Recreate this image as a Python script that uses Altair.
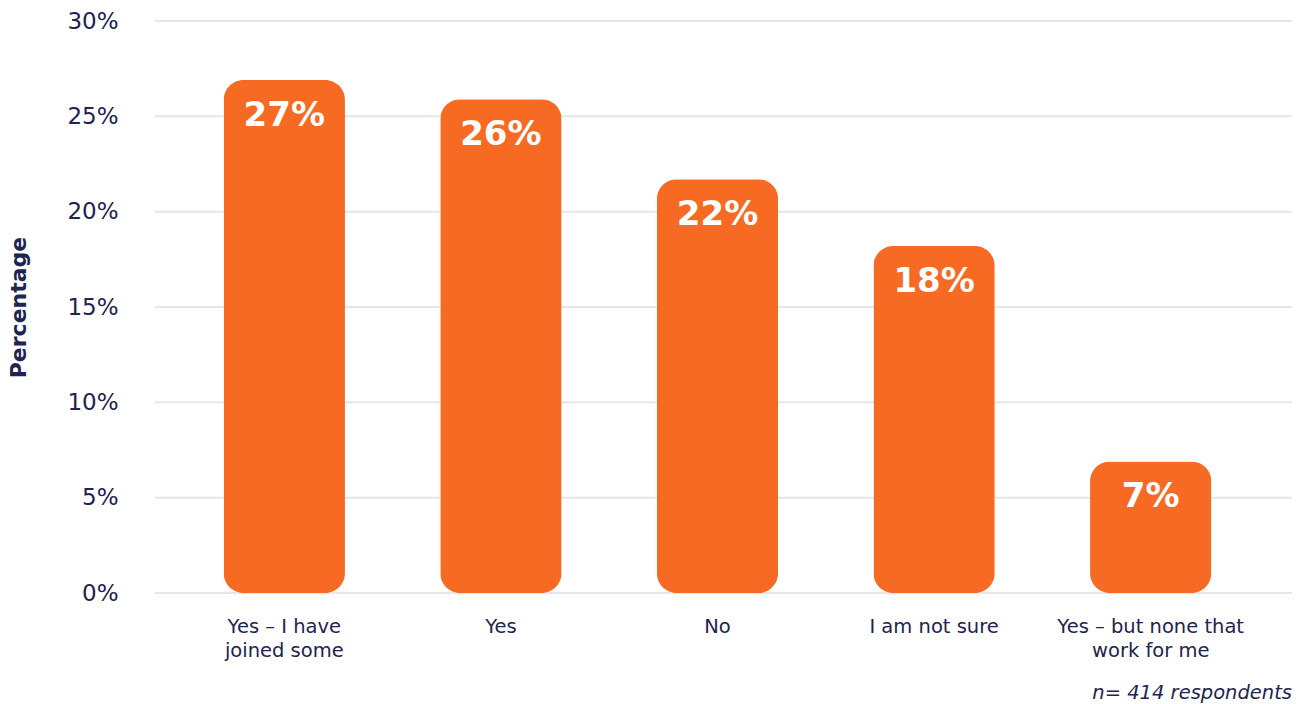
import altair as alt
import pandas as pd

categories = ["Yes – I have\njoined some", "Yes", "No", "I am not sure", "Yes – but none that\nwork for me"]
values = [26.9, 25.9, 21.7, 18.2, 6.9]
labels = ["27%", "26%", "22%", "18%", "7%"]
y_ticks = [0, 5, 10, 15, 20, 25, 30]
footnote = "n= 414 respondents"

FONT = "DejaVu Sans"
NAVY = "#23234f"
ORANGE = "#F76A24"

df = pd.DataFrame({"cat": categories, "val": values, "lab": labels})
xscale = alt.Scale(paddingInner=0.44, paddingOuter=0.317, range=[0, 1125])
yscale = alt.Scale(domain=[0, 30], nice=False)
yaxis = alt.Axis(values=y_ticks, labelExpr="datum.value + '%'",
                 labelFont=FONT, labelFontSize=23, labelColor=NAVY,
                 labelPadding=37, ticks=False, domain=False, grid=False,
                 titleFont=FONT, titleFontSize=22, titleFontWeight="bold",
                 titleColor=NAVY, titleX=-137, titleY=286,
                 titleAngle=270, titleAlign="center", titleBaseline="middle")

x = alt.X("cat:N", sort=categories, title=None, scale=xscale,
          axis=alt.Axis(labelExpr="split(datum.label, '\\n')", labelAngle=0,
                        labelFont=FONT, labelFontSize=19.5, labelColor=NAVY,
                        labelLineHeight=24, labelPadding=24, labelLimit=400,
                        ticks=False, domain=False, grid=False))

grid = alt.Chart(pd.DataFrame({"t": y_ticks})).mark_rule(
    color="#e6e6e6", strokeWidth=2).encode(
    y=alt.Y("t:Q", scale=yscale, axis=yaxis, title="Percentage"),
    x=alt.value(0), x2=alt.value(1137))

bars = alt.Chart(df).mark_bar(color=ORANGE, cornerRadius=20).encode(
    x=x, y=alt.Y("val:Q", scale=yscale, axis=yaxis, title="Percentage"))

text = alt.Chart(df).mark_text(font=FONT, fontSize=34, fontWeight="bold",
                               color="white", baseline="middle", dy=36).encode(
    x=alt.X("cat:N", sort=categories, scale=xscale),
    y=alt.Y("val:Q", scale=yscale, axis=yaxis, title="Percentage"), text="lab:N")

note = alt.Chart(pd.DataFrame({"t": [footnote]})).mark_text(
    font=FONT, fontSize=19.5, fontStyle="italic", color=NAVY,
    align="right", baseline="middle").encode(
    x=alt.value(1137), y=alt.value(672), text="t:N")

chart = alt.layer(grid, bars, text, note).properties(
    width=1137, height=572,
    autosize=alt.AutoSizeParams(type="none"),
    padding={"left": 155, "top": 21, "right": 9, "bottom": 111},
    background="white",
).configure_view(stroke=None)

chart.save("out.html", embed_options={"renderer": "svg", "actions": False})
